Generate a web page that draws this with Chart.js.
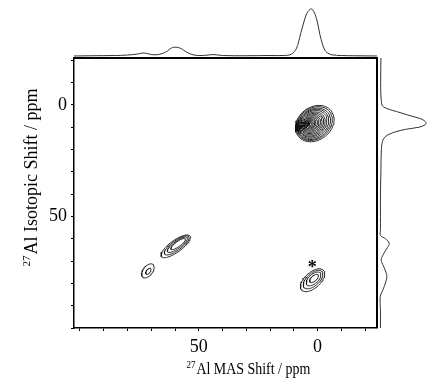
<!DOCTYPE html>
<html>
<head>
<meta charset="utf-8">
<script src="https://cdn.jsdelivr.net/npm/chart.js@4.4.0/dist/chart.umd.min.js"></script>
<style>
  html, body { margin: 0; padding: 0; background: #fff; }
  #wrap { position: relative; width: 427px; height: 383px; overflow: hidden; }
  canvas { position: absolute; }
</style>
</head>
<body>
<div id="wrap">
  <canvas id="main" width="427" height="383" style="left:0;top:0;width:427px;height:383px"></canvas>
  <canvas id="top" width="303" height="58" style="left:74px;top:0;width:303px;height:58px"></canvas>
  <canvas id="side" width="50" height="270" style="left:377px;top:58px;width:50px;height:270px"></canvas>
</div>
<script>
// 27Al MQMAS spectrum, MAS dimension (F2) and isotropic dimension (F1), ppm
const xTickLabels = [50, 0];
const yTickLabels = [0, 50];

// F2 projection (top)
const topMas = [102.5, 95, 85, 80, 76, 73, 70, 67, 64, 61, 58, 55, 52, 48, 44, 40, 30, 20, 14, 11, 9, 8, 7, 6, 5, 4, 2.5, 1, 0, -1, -2, -3, -4, -6, -10, -15, -25];
const topInt = [0, 0.5, 1, 2, 4, 6.5, 3, 3, 8, 18, 17, 8, 2, 1, 3, 1, 0.5, 1, 1, 4, 15, 30, 50, 68, 85, 95, 100, 88, 70, 45, 26, 13, 7, 2.5, 1, 0.5, 0];

// F1 projection (right)
const sideIso = [-21, -10, -4, -2, 0, 1, 2, 3, 4, 5, 6, 7, 8, 8.5, 9, 10, 11, 12, 13, 14, 16, 20, 30, 40, 50, 56, 58.5, 60, 62, 64, 66, 67.5, 69.5, 72, 75, 77, 79, 81, 83, 86, 92, 100];
const sideInt = [2, 1.5, 2, 3, 4, 8, 20, 36, 52, 68, 85, 96, 100, 100, 98, 85, 55, 35, 22, 13, 6, 3, 2, 1, 1, 1, 1, 12, 20, 16, 10, 6, 2.5, 7, 13, 15, 13, 10, 6, 0.5, 1, 1];

// contour rings: centre (MAS, iso), long / short half axis (ppm), tilt (deg)
const ringMas   = [1.2, 1.4, 1.6, 1.8, 2.0, 2.2, 2.3, 2.4, 2.5, 2.6, 2.7, 2.8, 2.8, 2.9, 2.9,  59.7, 59.3, 59.0, 58.7,  71.4, 71.2,  2.1, 1.9, 1.7, 1.5];
const ringIso   = [8.4, 8.4, 8.5, 8.5, 8.5, 8.6, 8.6, 8.6, 8.6, 8.6, 8.6, 8.6, 8.6, 8.6, 8.6,  63.4, 63.0, 62.7, 62.4,  74.4, 74.6,  78.6, 78.3, 78.0, 77.8];
const ringLong  = [9.0, 8.4, 7.8, 7.2, 6.6, 6.0, 5.4, 4.8, 4.2, 3.6, 3.0, 2.4, 1.8, 1.2, 0.7,  7.6, 6.4, 5.2, 3.8,  3.6, 1.6,  6.4, 5.2, 3.9, 2.4];
const ringShort = [7.2, 6.7, 6.2, 5.7, 5.2, 4.7, 4.2, 3.7, 3.2, 2.7, 2.3, 1.8, 1.4, 1.0, 0.5,  2.6, 2.1, 1.6, 1.1,  2.0, 0.8,  3.4, 2.7, 2.0, 1.1];
const ringTilt  = [45, 45, 45, 45, 45, 45, 45, 45, 45, 45, 45, 45, 45, 45, 45,  38, 38, 38, 38,  55, 55,  45, 45, 45, 45];

const SERIF = "'Liberation Serif', 'Times New Roman', serif";

function ringPoints(i) {
  const pts = [];
  const th = ringTilt[i] * Math.PI / 180;
  for (let k = 0; k <= 60; k++) {
    const t = 2 * Math.PI * k / 60;
    const u = ringLong[i] * Math.cos(t), v = ringShort[i] * Math.sin(t);
    pts.push({ x: ringMas[i] + u * Math.cos(th) - v * Math.sin(th), y: ringIso[i] + u * Math.sin(th) + v * Math.cos(th) });
  }
  return pts;
}

const contourSets = ringMas.map(function(_, i) {
  return { data: ringPoints(i), showLine: true, borderColor: "#111", borderWidth: 0.9, pointRadius: 0, fill: false, tension: 0 };
});

function drawSup(ctx, sup, text, x, y, size) {
  ctx.font = Math.round(size * 0.62) + "px " + SERIF;
  const w1 = ctx.measureText(sup).width;
  ctx.font = size + "px " + SERIF;
  const w2 = ctx.measureText(text).width;
  const x0 = x - (w1 + w2) / 2;
  ctx.font = Math.round(size * 0.62) + "px " + SERIF;
  ctx.fillText(sup, x0, y - size * 0.38);
  ctx.font = size + "px " + SERIF;
  ctx.fillText(text, x0 + w1 + 1, y);
}

const framePlugin = {
  id: "frame",
  afterDraw: function(chart) {
    const ctx = chart.ctx, a = chart.chartArea;
    ctx.save();
    ctx.strokeStyle = "#000";
    ctx.lineWidth = 2;
    ctx.beginPath();
    ctx.moveTo(a.left, a.top); ctx.lineTo(a.right, a.top); ctx.lineTo(a.right, a.bottom);
    ctx.stroke();
    // asterisk over the spinning sideband
    ctx.fillStyle = "#000";
    ctx.textBaseline = "alphabetic";
    ctx.font = "bold 18px " + SERIF;
    const px = chart.scales.x.getPixelForValue(2.2), py = chart.scales.y.getPixelForValue(70.8);
    ctx.textAlign = "center";
    ctx.fillText("*", px, py + 10);
    ctx.textAlign = "left";
    // x title, squeezed like the printed figure
    ctx.save();
    ctx.translate(248, 374);
    ctx.scale(0.82, 1);
    drawSup(ctx, "27", "Al MAS Shift / ppm", 0, 0, 17);
    ctx.restore();
    // y title
    ctx.save();
    ctx.translate(37, 178);
    ctx.rotate(-Math.PI / 2);
    drawSup(ctx, "27", "Al Isotopic Shift / ppm", 0, 0, 18);
    ctx.restore();
    ctx.restore();
  }
};

function tickCb(list) {
  return function(v) { return list.indexOf(v) >= 0 ? String(v) : ""; };
}

new Chart(document.getElementById("main"), {
  type: "scatter",
  data: { datasets: contourSets },
  options: {
    responsive: false, animation: false, devicePixelRatio: 1,
    layout: { padding: { left: 0, top: 58, right: 50, bottom: 0 } },
    plugins: { legend: { display: false }, tooltip: { enabled: false } },
    scales: {
      x: {
        type: "linear", min: -25, max: 102.5, reverse: true,
        afterFit: function(s) { s.height = 55; },
        ticks: { stepSize: 10, includeBounds: false, autoSkip: false, maxRotation: 0, padding: 5, color: "#000", font: { family: SERIF, size: 18 }, callback: tickCb(xTickLabels) },
        grid: { drawOnChartArea: false, drawTicks: true, tickLength: 3, color: "#000" },
        border: { display: true, color: "#000", width: 1.5 }
      },
      y: {
        type: "linear", min: -21, max: 100, reverse: true,
        afterFit: function(s) { s.width = 74; },
        ticks: { stepSize: 10, includeBounds: false, autoSkip: false, padding: 4, color: "#000", font: { family: SERIF, size: 18 }, callback: tickCb(yTickLabels) },
        grid: { drawOnChartArea: false, drawTicks: true, tickLength: 3, color: "#000" },
        border: { display: true, color: "#000", width: 1.5 }
      }
    }
  },
  plugins: [framePlugin]
});

new Chart(document.getElementById("top"), {
  type: "scatter",
  data: { datasets: [{ data: topMas.map(function(m, i) { return { x: m, y: topInt[i] }; }), showLine: true, borderColor: "#333", borderWidth: 1, pointRadius: 0, tension: 0.35 }] },
  options: {
    responsive: false, animation: false, devicePixelRatio: 1,
    layout: { padding: 0 },
    plugins: { legend: { display: false }, tooltip: { enabled: false } },
    scales: {
      x: { type: "linear", display: false, min: -25, max: 102.5, reverse: true },
      y: { type: "linear", display: false, min: -4.3, max: 119.1 }
    }
  }
});

new Chart(document.getElementById("side"), {
  type: "scatter",
  data: { datasets: [{ data: sideIso.map(function(v, i) { return { x: sideInt[i], y: v }; }), showLine: true, borderColor: "#333", borderWidth: 1, pointRadius: 0, tension: 0.35 }] },
  options: {
    responsive: false, animation: false, devicePixelRatio: 1,
    layout: { padding: 0 },
    plugins: { legend: { display: false }, tooltip: { enabled: false } },
    scales: {
      x: { type: "linear", display: false, min: -6.5, max: 102.2 },
      y: { type: "linear", display: false, min: -21, max: 100, reverse: true }
    }
  }
});
</script>
</body>
</html>
